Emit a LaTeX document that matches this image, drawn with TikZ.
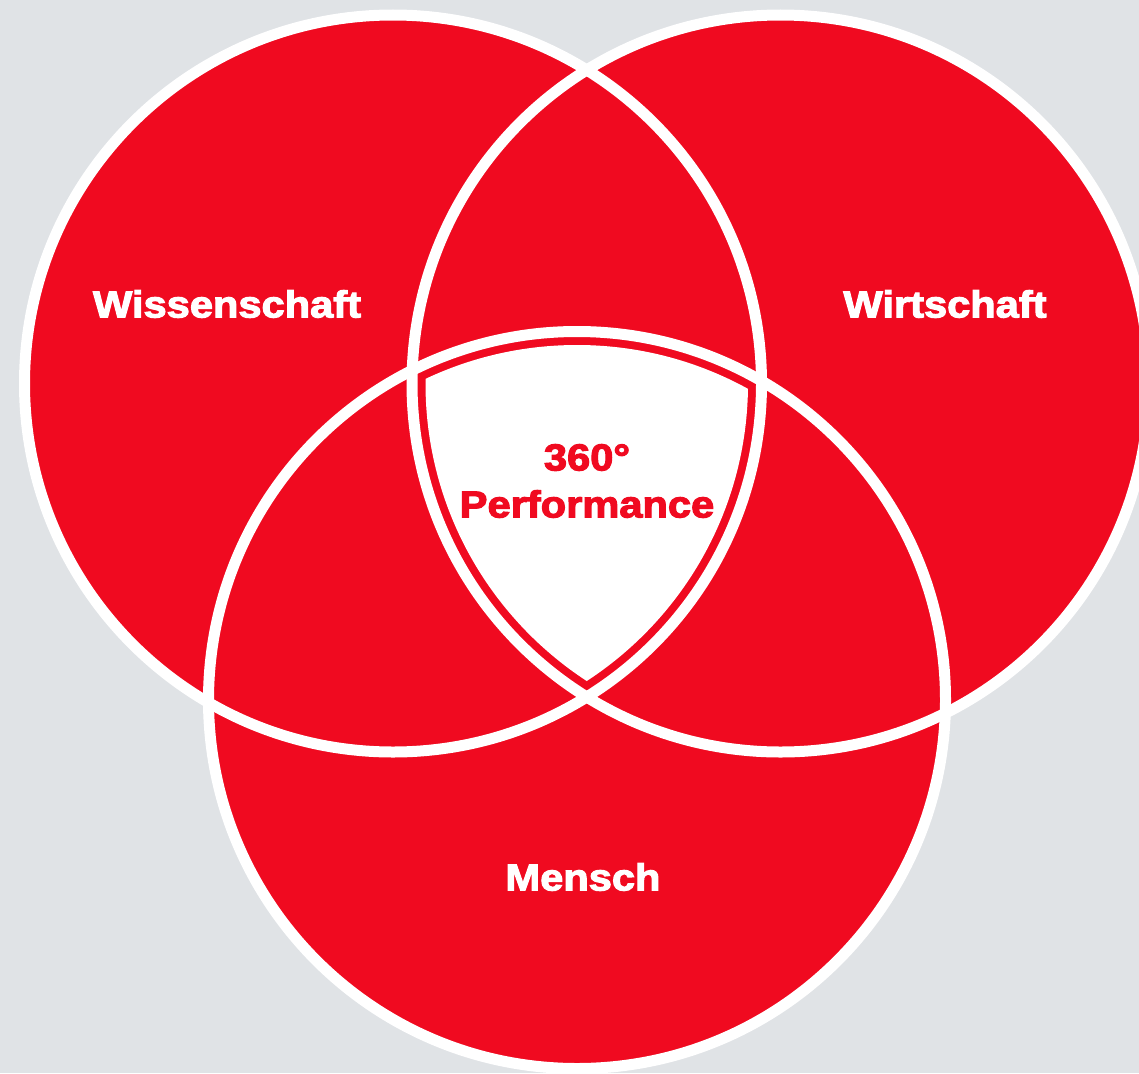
\documentclass[tikz,border=0pt]{standalone}
\usepackage{fontspec}
\setmainfont{Liberation Sans}[BoldFeatures={FakeBold=3,FakeStretch=1.11}]
\definecolor{bgGray}{RGB}{224,227,230}
\definecolor{vRed}{RGB}{240,10,32}
\begin{document}
\begin{tikzpicture}[x=1pt,y=-1pt,
  setcircle/.style={fill=vRed},
  ringline/.style={draw=white,line width=11pt},
  lbl/.style={font=\fontsize{37.5}{47}\selectfont\bfseries,text=white,align=center,inner sep=0pt}]
\useasboundingbox (0,0) rectangle (1139,1073);
\clip (0,0) rectangle (1139,1073);
\fill[bgGray] (0,0) rectangle (1139,1073);
\coordinate (L) at (393,383.5);
\coordinate (R) at (780.5,383.5);
\coordinate (B) at (577,700);
\foreach \c in {L,R,B} \fill[setcircle] (\c) circle[radius=368.5pt];
\foreach \c in {L,R,B} \draw[ringline] (\c) circle[radius=368.5pt];
\begin{scope}
  \clip (L) circle[radius=355pt];
  \clip (R) circle[radius=355pt];
  \fill[white] (B) circle[radius=355pt];
\end{scope}
\node[lbl] (wiss) at (227,304) {Wissenschaft};
\node[lbl] (wirt) at (945,304) {Wirtschaft};
\node[lbl] (mensch) at (583,877) {Mensch};
\node[lbl,text=vRed] (perf) at (587,481) {360°\\Performance};
\end{tikzpicture}
\end{document}
